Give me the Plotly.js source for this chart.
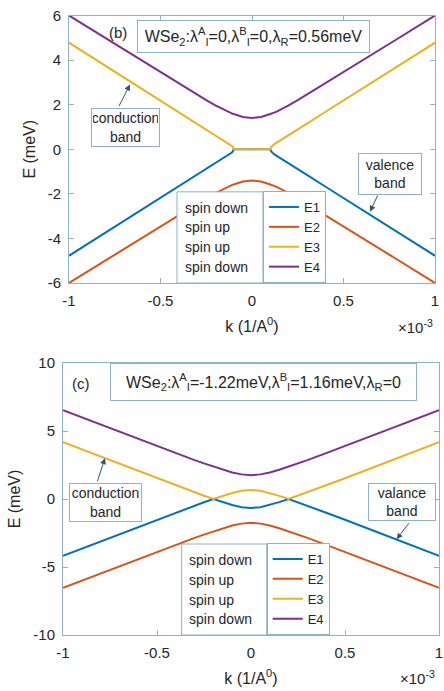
<!DOCTYPE html>
<html>
<head>
<meta charset="utf-8">
<script src="https://cdn.plot.ly/plotly-3.0.1.min.js"></script>
<style>html,body{margin:0;padding:0;background:#fff;}#chart{width:444px;height:691px;}</style>
</head>
<body>
<div id="chart"></div>
<script>
// ---------- Panel (b) data (k in units of 1e-3 1/A0, E in meV) ----------
const kB = [-1,-0.8,-0.6,-0.5,-0.4,-0.3,-0.25,-0.2,-0.175,-0.15,-0.135,-0.12,-0.11,-0.105,-0.1,-0.05,0,0.05,0.1,0.105,0.11,0.12,0.135,0.15,0.175,0.2,0.25,0.3,0.4,0.5,0.6,0.8,1];
const b_E1 = [-4.78,-3.74,-2.7,-2.19,-1.67,-1.15,-0.89,-0.63,-0.5,-0.38,-0.3,-0.22,-0.15,-0.1,0,0,0,0,0,-0.1,-0.15,-0.22,-0.3,-0.38,-0.5,-0.63,-0.89,-1.15,-1.67,-2.19,-2.7,-3.74,-4.78];
const b_E2 = [-6.0,-4.98,-3.97,-3.46,-2.96,-2.45,-2.2,-1.97,-1.86,-1.75,-1.69,-1.64,-1.61,-1.59,-1.58,-1.45,-1.4,-1.45,-1.58,-1.59,-1.61,-1.64,-1.69,-1.75,-1.86,-1.97,-2.2,-2.45,-2.96,-3.46,-3.97,-4.98,-6.0];
const b_E3 = [4.78,3.74,2.7,2.19,1.67,1.15,0.89,0.63,0.5,0.38,0.3,0.22,0.15,0.1,0,0,0,0,0,0.1,0.15,0.22,0.3,0.38,0.5,0.63,0.89,1.15,1.67,2.19,2.7,3.74,4.78];
const b_E4 = [6.0,4.98,3.97,3.46,2.96,2.45,2.2,1.97,1.86,1.75,1.69,1.64,1.61,1.59,1.58,1.45,1.4,1.45,1.58,1.59,1.61,1.64,1.69,1.75,1.86,1.97,2.2,2.45,2.96,3.46,3.97,4.98,6.0];

// ---------- Panel (c) data ----------
const kC = [-1,-0.8,-0.6,-0.5,-0.4,-0.3,-0.25,-0.2,-0.15,-0.1,-0.05,0,0.05,0.1,0.15,0.2,0.25,0.3,0.4,0.5,0.6,0.8,1];
const c_E1 = [-4.17,-3.11,-2.05,-1.53,-1.01,-0.49,-0.24,0,-0.23,-0.44,-0.6,-0.66,-0.6,-0.44,-0.23,0,-0.24,-0.49,-1.01,-1.53,-2.05,-3.11,-4.17];
const c_E2 = [-6.53,-5.47,-4.41,-3.89,-3.37,-2.86,-2.62,-2.38,-2.15,-1.95,-1.81,-1.75,-1.81,-1.95,-2.15,-2.38,-2.62,-2.86,-3.37,-3.89,-4.41,-5.47,-6.53];
const c_E3 = [4.17,3.11,2.05,1.53,1.01,0.49,0.24,0,0.23,0.44,0.6,0.66,0.6,0.44,0.23,0,0.24,0.49,1.01,1.53,2.05,3.11,4.17];
const c_E4 = [6.53,5.47,4.41,3.89,3.37,2.86,2.62,2.38,2.15,1.95,1.81,1.75,1.81,1.95,2.15,2.38,2.62,2.86,3.37,3.89,4.41,5.47,6.53];

const seriesNames = ['E1','E2','E3','E4'];
const spinLabels = ['spin down','spin up','spin up','spin down'];
const colors = ['#0072BD','#D95319','#EDB120','#7E2F8E'];
const xTicks = [-1,-0.5,0,0.5,1];
const xTickText = ['-1','-0.5','0','0.5','1'];
const yTicksB = [-6,-4,-2,0,2,4,6];
const yTicksC = [-10,-5,0,5,10];

const W = 444, H = 691;
const axCol = '#8fb3c6';
const txtCol = '#262626';
const FONT = 'Liberation Sans, Arial, sans-serif';

const traces = [];
[b_E1,b_E2,b_E3,b_E4].forEach((ys,i)=>{
  traces.push({x:kB,y:ys,type:'scatter',mode:'lines',name:seriesNames[i],
    line:{color:colors[i],width:2},xaxis:'x',yaxis:'y',legend:'legend'});
});
[c_E1,c_E2,c_E3,c_E4].forEach((ys,i)=>{
  traces.push({x:kC,y:ys,type:'scatter',mode:'lines',name:seriesNames[i],
    line:{color:colors[i],width:2},xaxis:'x2',yaxis:'y2',legend:'legend2'});
});

function xax(domain){
  return {domain:domain,range:[-1,1],tickvals:xTicks,ticktext:xTickText,
    showline:true,mirror:'ticks',linecolor:axCol,linewidth:1,ticks:'inside',ticklen:5,tickcolor:axCol,
    showgrid:false,zeroline:false,automargin:false,ticklabelstandoff:4,
    tickfont:{size:15,color:txtCol,family:FONT},
    title:{text:'k (1/A<sup>0</sup>)',font:{size:16,color:txtCol,family:FONT},standoff:12}};
}
function yax(domain,range,ticks){
  return {domain:domain,range:range,tickvals:ticks,ticktext:ticks.map(String),
    showline:true,mirror:'ticks',linecolor:axCol,linewidth:1,ticks:'inside',ticklen:5,tickcolor:axCol,
    showgrid:false,zeroline:false,automargin:false,ticklabelstandoff:4,
    tickfont:{size:15,color:txtCol,family:FONT},
    title:{text:'E (meV)',font:{size:16,color:txtCol,family:FONT},standoff:8}};
}

const xa1 = xax([69/W,435/W]);
const ya1 = yax([1-283/H,1-15.5/H],[-6,6],yTicksB);
const xa2 = xax([63/W,439/W]); xa2.anchor='y2';
const ya2 = yax([1-635/H,1-363/H],[-10,10],yTicksC); ya2.anchor='x2';
xa1.anchor='y'; ya1.anchor='x';

function boxAnn(xref,yref,x,y,text,w,h,size){
  return {xref:xref,yref:yref,x:x,y:y,text:text,showarrow:false,width:w,height:h,
    bordercolor:axCol,borderwidth:1,borderpad:1,bgcolor:'#ffffff',
    font:{size:size,color:txtCol,family:FONT},align:'center',xanchor:'center',yanchor:'middle'};
}
function arrowAnn(xref,yref,x,y,ax,ay){
  return {xref:xref,yref:yref,x:x,y:y,text:'',showarrow:true,ax:ax,ay:ay,
    arrowhead:2,arrowsize:1.2,arrowwidth:1,arrowcolor:'#2f5670'};
}
function plainAnn(xref,yref,x,y,text,size,xanchor){
  return {xref:xref,yref:yref,x:x,y:y,text:text,showarrow:false,
    font:{size:size,color:txtCol,family:FONT},xanchor:xanchor||'center',yanchor:'middle'};
}

const annotations = [
  // panel (b)
  plainAnn('x','y',-0.732,5.24,'(b)',15),
  boxAnn('x','y',0.008,5.08,'WSe<sub>2</sub>:λ<sup>A</sup><sub>I</sub>=0,λ<sup>B</sup><sub>I</sub>=0,λ<sub>R</sub>=0.56meV',229,29,16),
  boxAnn('x','y',-0.694,0.99,'conduction<br>band',65,35,14),
  boxAnn('x','y',0.754,-1.09,'valence<br>band',60,38,14),
  arrowAnn('x','y',-0.667,2.9,-11.7,23),
  arrowAnn('x','y',0.645,-2.8,8.3,-17.7),
  // panel (c)
  plainAnn('x2','y2',-0.906,8.51,'(c)',15),
  boxAnn('x2','y2',0.066,8.64,'WSe<sub>2</sub>:λ<sup>A</sup><sub>I</sub>=-1.22meV,λ<sup>B</sup><sub>I</sub>=1.16meV,λ<sub>R</sub>=0',303,34,16),
  boxAnn('x2','y2',-0.772,-0.26,'conduction<br>band',69,35,14),
  boxAnn('x2','y2',0.802,-0.22,'valance<br>band',64,34,14),
  arrowAnn('x2','y2',-0.777,3.0,-8,24.7),
  arrowAnn('x2','y2',0.775,-2.96,13.3,-17.6),
  // x10^-3 multipliers
  plainAnn('paper','paper',415/W,1-326/H,'×10<sup>-3</sup>',15),
  plainAnn('paper','paper',417/W,1-677/H,'×10<sup>-3</sup>',15)
];
// spin labels (aligned with legend rows)
const rowsB = [-2.63,-3.48,-4.38,-5.28];
const rowsC = [-4.49,-5.96,-7.43,-8.82];
spinLabels.forEach((s,i)=>{
  annotations.push(plainAnn('x','y',-0.377,rowsB[i],s,14,'left'));
  annotations.push(plainAnn('x2','y2',-0.342,rowsC[i],s,14,'left'));
});

const shapes = [
  {type:'rect',xref:'x',yref:'y',x0:-0.41,x1:0.06,y0:-6,y1:-1.91,line:{color:axCol,width:1},fillcolor:'#ffffff',layer:'above'},
  {type:'rect',xref:'x2',yref:'y2',x0:-0.369,x1:0.0835,y0:-10,y1:-3.31,line:{color:axCol,width:1},fillcolor:'#ffffff',layer:'above'}
];

const legendStyle = {bordercolor:axCol,borderwidth:1,bgcolor:'#ffffff',
  font:{size:13,color:txtCol,family:FONT},itemwidth:30,tracegroupgap:0,xanchor:'left',yanchor:'bottom'};

const layout = {
  width:W,height:H,margin:{l:0,r:0,t:0,b:0},
  paper_bgcolor:'#ffffff',plot_bgcolor:'#ffffff',
  font:{family:FONT,color:txtCol},
  showlegend:true,
  xaxis:xa1,yaxis:ya1,xaxis2:xa2,yaxis2:ya2,
  legend:Object.assign({x:263/W,y:1-283/H},legendStyle),
  legend2:Object.assign({x:266.7/W,y:1-635/H},legendStyle),
  annotations:annotations,
  shapes:shapes
};

Plotly.newPlot('chart',traces,layout,{displayModeBar:false,staticPlot:true});
</script>
</body>
</html>
